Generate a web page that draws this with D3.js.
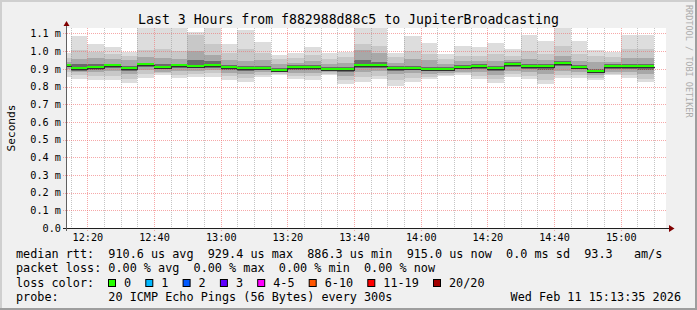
<!DOCTYPE html>
<html><head><meta charset="utf-8">
<script src="https://cdn.jsdelivr.net/npm/d3@7"></script>
<style>
body{margin:0;background:#f0f0f0}
svg{display:block}
text{font-family:"DejaVu Sans Mono",monospace;fill:#000}
</style>
</head><body><svg id="c" width="697" height="310"></svg>
<script>
// ---- data (milliseconds) ----
const binStart = ["12:10","12:15","12:20","12:25","12:30","12:35","12:40","12:45","12:50","12:55",
  "13:00","13:05","13:10","13:15","13:20","13:25","13:30","13:35","13:40","13:45",
  "13:50","13:55","14:00","14:05","14:10","14:15","14:20","14:25","14:30","14:35",
  "14:40","14:45","14:50","14:55","15:00","15:05"];
const pMax = [0.990,1.083,1.043,1.021,0.998,1.160,1.160,1.140,1.107,1.150,1.038,1.117,1.051,0.981,0.989,1.021,0.989,0.995,1.170,1.170,
  0.989,1.083,1.049,0.985,1.027,1.021,1.049,1.015,1.089,1.060,1.150,1.060,1.004,0.993,1.094,1.089];
const p18 = [0.960,1.004,0.998,0.985,0.975,1.004,1.010,1.000,1.090,1.043,0.990,1.010,0.990,0.955,0.960,0.980,0.955,0.965,1.042,1.032,
  0.965,1.000,0.985,0.955,0.975,0.975,0.985,0.975,1.000,0.985,1.030,0.985,0.970,0.965,1.010,1.010];
const p15 = [0.940,0.957,0.960,0.955,0.950,0.965,0.960,0.955,1.000,0.976,0.950,0.945,0.950,0.930,0.935,0.945,0.930,0.935,1.004,0.990,
  0.935,0.955,0.950,0.930,0.945,0.945,0.945,0.950,0.955,0.950,0.975,0.945,0.940,0.940,0.960,0.960];
const p12 = [0.928,0.925,0.925,0.930,0.915,0.935,0.925,0.930,0.950,0.945,0.920,0.915,0.918,0.905,0.920,0.920,0.910,0.910,0.948,0.940,
  0.915,0.918,0.912,0.910,0.920,0.925,0.915,0.937,0.925,0.925,0.945,0.920,0.900,0.925,0.925,0.925];
const median = [0.921,0.902,0.908,0.919,0.902,0.925,0.908,0.919,0.915,0.921,0.908,0.902,0.904,0.895,0.910,0.910,0.899,0.899,0.921,0.921,
  0.904,0.904,0.899,0.899,0.908,0.915,0.904,0.927,0.915,0.915,0.933,0.910,0.888,0.915,0.915,0.915];
const p9 = [0.912,0.890,0.895,0.905,0.890,0.912,0.898,0.905,0.902,0.905,0.895,0.888,0.893,0.888,0.895,0.895,0.890,0.885,0.905,0.905,
  0.890,0.892,0.888,0.888,0.898,0.900,0.888,0.912,0.900,0.895,0.915,0.898,0.878,0.900,0.900,0.895];
const p6 = [0.900,0.880,0.882,0.888,0.870,0.895,0.885,0.890,0.888,0.892,0.878,0.870,0.880,0.880,0.878,0.878,0.880,0.862,0.885,0.888,
  0.870,0.875,0.872,0.876,0.885,0.882,0.865,0.890,0.880,0.870,0.890,0.880,0.865,0.885,0.880,0.870];
const p3 = [0.880,0.865,0.860,0.862,0.845,0.870,0.875,0.868,0.870,0.875,0.858,0.848,0.868,0.872,0.858,0.858,0.870,0.835,0.855,0.862,
  0.835,0.848,0.855,0.866,0.875,0.860,0.840,0.872,0.858,0.838,0.868,0.865,0.850,0.872,0.865,0.845];
const pMin = [0.855,0.844,0.835,0.835,0.820,0.850,0.863,0.850,0.852,0.855,0.835,0.826,0.855,0.867,0.840,0.838,0.863,0.812,0.825,0.840,
  0.801,0.825,0.840,0.859,0.868,0.844,0.820,0.856,0.840,0.812,0.850,0.850,0.838,0.863,0.850,0.825];

const yTicks = [0,0.1,0.2,0.3,0.4,0.5,0.6,0.7,0.8,0.9,1.0,1.1];
const xTickLabels = ["12:20","12:40","13:00","13:20","13:40","14:00","14:20","14:40","15:00"];
const minorTimes = ["12:15","12:25","12:30","12:35","12:45","12:50","12:55","13:05","13:10","13:15","13:25","13:30","13:35",
  "13:45","13:50","13:55","14:05","14:10","14:15","14:25","14:30","14:35","14:45","14:50","14:55","15:05","15:10"];
const title = "Last 3 Hours from f882988d88c5 to JupiterBroadcasting";
const rttStats = ["910.6","929.4","886.3","915.0","0.0","93.3"];
const lossStats = ["0.00","0.00","0.00","0.00"];
const lossLabels = ["0","1","2","3","4-5","6-10","11-19","20/20"];
const lossColors = ["#26ff00","#00b8ff","#0059ff","#5e00ff","#ff00ff","#ff5500","#ff0000","#a10000"];
const probeText = "20 ICMP Echo Pings (56 Bytes) every 300s";
const stampText = "Wed Feb 11 15:13:35 2026";
const tStart = "12:13:35", tEnd = "15:13:35";

// ---- layout ----
const W = 697, H = 310;
const L = 66, R = 666, T = 28, B = 228;
const svg = d3.select("#c");
const pt = d3.utcParse("%H:%M"), pts = d3.utcParse("%H:%M:%S");
const x = d3.scaleUtc().domain([pts(tStart), pts(tEnd)]).range([L, R]);
const y = d3.scaleLinear().domain([0, 1.131]).range([B, T]);

// background & border
svg.append("rect").attr("width",W).attr("height",H).attr("fill","#f0f0f0");
svg.append("rect").attr("x",0).attr("y",0).attr("width",W).attr("height",2).attr("fill","#cfcfcf");
svg.append("rect").attr("x",0).attr("y",0).attr("width",2).attr("height",H).attr("fill","#cfcfcf");
svg.append("rect").attr("x",0).attr("y",H-2).attr("width",W).attr("height",2).attr("fill","#9e9e9e");
svg.append("rect").attr("x",W-2).attr("y",0).attr("width",2).attr("height",H).attr("fill","#9e9e9e");

// canvas
svg.append("rect").attr("x",L).attr("y",T).attr("width",R-L).attr("height",B-T).attr("fill","#fff");
svg.append("defs").append("clipPath").attr("id","cp").append("rect")
  .attr("x",L+1).attr("y",T).attr("width",R-L-1).attr("height",B-T);

// smoke
const step = 5*60*1000;
const layers = [[pMin,pMax,"#dddddd"],[p3,p18,"#c8c8c8"],[p6,p15,"#a8a8a8"],[p9,p12,"#6a6a6a"]];
const gS = svg.append("g").attr("clip-path","url(#cp)").attr("shape-rendering","crispEdges");
binStart.forEach((s,i)=>{
  const t0 = pt(s), x0 = Math.round(x(t0)), x1 = Math.round(x(new Date(+t0+step)));
  layers.forEach(([lo,hi,col])=>{
    const ya = Math.round(y(hi[i])), yb = Math.round(y(lo[i]));
    gS.append("rect").attr("x",x0).attr("y",ya).attr("width",x1-x0).attr("height",yb-ya).attr("fill",col);
  });
});

// grid
const gG = svg.append("g");
minorTimes.forEach(s=>{
  const xx = Math.round(x(pt(s)))+0.5;
  gG.append("line").attr("x1",xx).attr("x2",xx).attr("y1",T).attr("y2",B+2)
    .attr("stroke","rgba(140,140,140,0.5)").attr("stroke-dasharray","1,1");
});
xTickLabels.forEach(s=>{
  const xx = Math.round(x(pt(s)))+0.5;
  gG.append("line").attr("x1",xx).attr("x2",xx).attr("y1",T).attr("y2",B+3)
    .attr("stroke","rgba(240,110,110,0.6)").attr("stroke-dasharray","1,1");
});
yTicks.slice(1).forEach(v=>{
  const yy = Math.round(y(v))+0.5;
  gG.append("line").attr("x1",L-3).attr("x2",R+1).attr("y1",yy).attr("y2",yy)
    .attr("stroke","rgba(240,110,110,0.6)").attr("stroke-dasharray","1,1");
});

// median line
const gM = svg.append("g").attr("clip-path","url(#cp)").attr("shape-rendering","crispEdges");
const medPts = [];
binStart.forEach((s,i)=>{
  const t0 = pt(s);
  medPts.push([x(t0), y(median[i])]);
  medPts.push([x(new Date(+t0+step)), y(median[i])]);
});
gM.append("path").attr("d", d3.line().x(d=>Math.round(d[0])+0.5).y(d=>Math.round(d[1])+1.5)(medPts))
  .attr("fill","none").attr("stroke","#303030").attr("stroke-width",1);
binStart.forEach((s,i)=>{
  const t0 = pt(s), x0 = Math.round(x(t0)), x1 = Math.round(x(new Date(+t0+step)));
  gM.append("rect").attr("x",x0).attr("y",Math.round(y(median[i]))-1).attr("width",x1-x0).attr("height",2)
    .attr("fill",lossColors[0]);
});

// axes
svg.append("line").attr("x1",L-3).attr("x2",R+4).attr("y1",B+0.5).attr("y2",B+0.5).attr("stroke","#202020");
svg.append("line").attr("x1",L+0.5).attr("x2",L+0.5).attr("y1",B+3).attr("y2",T-3).attr("stroke","#606060");
svg.append("path").attr("d",`M${R+3},${B-3}L${R+3},${B+4}L${R+8.5},${B+0.5}Z`).attr("fill","#800000");
svg.append("path").attr("d",`M${L-2.5},${T-2}L${L+3.5},${T-2}L${L+0.5},${T-7}Z`).attr("fill","#800000");

// tick labels
yTicks.forEach(v=>{
  svg.append("text").attr("x",61).attr("y",y(v)+3.7).attr("text-anchor","end")
    .style("font-size","10.2px").text(v===0 ? "0.0" : v.toFixed(1)+" m");
});
xTickLabels.forEach(s=>{
  svg.append("text").attr("x",x(pt(s))+0.5).attr("y",241).attr("text-anchor","middle")
    .style("font-size","10.2px").text(s);
});

// title, axis title, watermark
svg.append("text").attr("x",348.5).attr("y",24).attr("text-anchor","middle").style("font-size","13.2px").text(title);
svg.append("text").attr("transform","translate(15,128) rotate(-90)").attr("text-anchor","middle")
  .style("font-size","11.2px").text("Seconds");
svg.append("text").attr("transform","translate(685.5,5) rotate(90)").style("font-size","8.5px")
  .style("fill","#acacac").text("RRDTOOL / TOBI OETIKER");

// legend
const lf = "11.8px";
function line(str, yy){ svg.append("text").attr("x",16).attr("y",yy).attr("xml:space","preserve").style("white-space","pre").style("font-size",lf).text(str); }
line(`median rtt:  ${rttStats[0]} us avg  ${rttStats[1]} us max  ${rttStats[2]} us min  ${rttStats[3]} us now  ${rttStats[4]} ms sd  ${rttStats[5]}   am/s`, 257.5);
line(`packet loss: ${lossStats[0]} % avg  ${lossStats[1]} % max  ${lossStats[2]} % min  ${lossStats[3]} % now`, 272);
line("loss color:", 286.5);
line(`probe:       ${probeText}`, 301);
svg.append("text").attr("x",681).attr("y",301).attr("text-anchor","end").style("font-size",lf).text(stampText);
const cw = 7.1;
let bx = 108;
lossLabels.forEach((lab,i)=>{
  svg.append("rect").attr("x",bx+0.5).attr("y",279.5).attr("width",7).attr("height",7)
    .attr("fill",lossColors[i]).attr("stroke","#000");
  svg.append("text").attr("x",bx+16).attr("y",286.5).style("font-size",lf).text(lab);
  bx = bx + 16 + lab.length*cw + 2*cw;
});
</script>
</body></html>
